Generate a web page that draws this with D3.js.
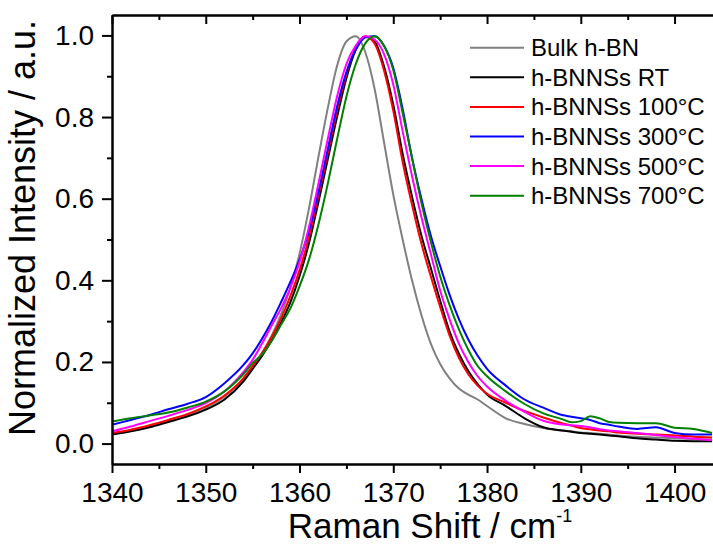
<!DOCTYPE html>
<html>
<head>
<meta charset="utf-8">
<script src="https://cdn.jsdelivr.net/npm/d3@7"></script>
<style>
  body { margin: 0; background: #fff; }
  text { font-family: "Liberation Sans", Arial, sans-serif; fill: #000; }
</style>
</head>
<body>
<div id="chart"></div>
<script>
// Raman shift grid (cm^-1) shared by all spectra
const ramanShift = [1340, 1342, 1344, 1346, 1348, 1350, 1352, 1354,
  1355, 1356, 1357, 1358, 1359, 1360, 1361, 1362, 1363, 1364, 1365, 1366, 1367, 1368, 1369, 1370,
  1371, 1372, 1373, 1374, 1375, 1376, 1377, 1378, 1379, 1380,
  1382, 1384, 1386, 1388, 1389, 1390, 1391, 1392, 1393, 1394, 1396, 1398, 1400, 1402, 1404];

// Normalized intensities
const bulkHBN = [0.024, 0.031, 0.041, 0.055, 0.069, 0.087, 0.115, 0.158,
  0.188, 0.222, 0.263, 0.315, 0.38, 0.465, 0.575, 0.70, 0.82, 0.925, 0.985, 0.998, 0.96, 0.87, 0.74, 0.61,
  0.50, 0.40, 0.315, 0.245, 0.195, 0.16, 0.135, 0.12, 0.108, 0.092,
  0.062, 0.048, 0.038, 0.032, 0.030, 0.027, 0.026, 0.024, 0.022, 0.020, 0.017, 0.015, 0.013, 0.011, 0.010];
const bnnsRT = [0.022, 0.030, 0.040, 0.053, 0.066, 0.083, 0.108, 0.152,
  0.183, 0.215, 0.252, 0.295, 0.345, 0.41, 0.49, 0.59, 0.695, 0.80, 0.895, 0.965, 0.997, 0.985, 0.925, 0.83,
  0.71, 0.605, 0.51, 0.43, 0.35, 0.275, 0.22, 0.178, 0.146, 0.12,
  0.092, 0.062, 0.040, 0.032, 0.029, 0.026, 0.024, 0.022, 0.020, 0.018, 0.013, 0.010, 0.007, 0.006, 0.006];
const bnns100 = [0.026, 0.034, 0.045, 0.058, 0.072, 0.091, 0.118, 0.160,
  0.190, 0.222, 0.26, 0.305, 0.36, 0.425, 0.505, 0.605, 0.71, 0.815, 0.905, 0.97, 0.998, 0.98, 0.915, 0.815,
  0.69, 0.585, 0.49, 0.41, 0.335, 0.265, 0.21, 0.17, 0.142, 0.122,
  0.10, 0.080, 0.064, 0.050, 0.044, 0.038, 0.035, 0.032, 0.030, 0.027, 0.024, 0.022, 0.020, 0.017, 0.015];
const bnns300 = [0.046, 0.058, 0.070, 0.084, 0.097, 0.114, 0.148, 0.192,
  0.221, 0.257, 0.298, 0.345, 0.395, 0.45, 0.52, 0.615, 0.72, 0.825, 0.91, 0.965, 0.995, 0.998, 0.975, 0.92,
  0.82, 0.70, 0.60, 0.51, 0.435, 0.365, 0.305, 0.255, 0.215, 0.183,
  0.142, 0.108, 0.088, 0.070, 0.066, 0.062, 0.058, 0.050, 0.046, 0.042, 0.036, 0.040, 0.026, 0.022, 0.022];
const bnns500 = [0.030, 0.042, 0.055, 0.068, 0.082, 0.099, 0.128, 0.175,
  0.205, 0.245, 0.288, 0.33, 0.38, 0.445, 0.53, 0.635, 0.745, 0.85, 0.93, 0.975, 0.998, 0.99, 0.955, 0.88,
  0.765, 0.655, 0.555, 0.465, 0.375, 0.305, 0.245, 0.20, 0.165, 0.14,
  0.105, 0.078, 0.056, 0.047, 0.045, 0.043, 0.040, 0.035, 0.032, 0.030, 0.026, 0.021, 0.016, 0.012, 0.008];
const bnns700 = [0.054, 0.062, 0.069, 0.076, 0.088, 0.103, 0.128, 0.170,
  0.197, 0.218, 0.25, 0.29, 0.33, 0.385, 0.45, 0.535, 0.635, 0.745, 0.85, 0.93, 0.98, 0.998, 0.975, 0.915,
  0.81, 0.70, 0.59, 0.495, 0.41, 0.34, 0.28, 0.23, 0.19, 0.165,
  0.128, 0.097, 0.074, 0.060, 0.052, 0.055, 0.067, 0.062, 0.053, 0.051, 0.050, 0.050, 0.039, 0.036, 0.026];

const seriesNames = ['Bulk h-BN', 'h-BNNSs RT', 'h-BNNSs 100°C', 'h-BNNSs 300°C', 'h-BNNSs 500°C', 'h-BNNSs 700°C'];
const seriesValues = [bulkHBN, bnnsRT, bnns100, bnns300, bnns500, bnns700];
const seriesColors = ['#808080', '#000000', '#ff0000', '#0000ff', '#ff00ff', '#008000'];

const xMajorTicks = [1340, 1350, 1360, 1370, 1380, 1390, 1400];
const xMinorTicks = [1345, 1355, 1365, 1375, 1385, 1395];
const yMajorTicks = [0, 0.2, 0.4, 0.6, 0.8, 1.0];
const yMinorTicks = [0.1, 0.3, 0.5, 0.7, 0.9];

const width = 713;
const height = 547;
const plot = { left: 112, right: 713, top: 15, bottom: 464 };

const svg = d3.select('#chart')
  .append('svg')
  .attr('width', width)
  .attr('height', height);

const x = d3.scaleLinear().domain([1340, 1404.1]).range([plot.left, plot.right]);
const y = d3.scaleLinear().domain([-0.05, 1.05]).range([plot.bottom, plot.top]);

svg.append('clipPath').attr('id', 'plot-clip')
  .append('rect')
  .attr('x', plot.left).attr('y', plot.top)
  .attr('width', plot.right - plot.left).attr('height', plot.bottom - plot.top);

// spectra, drawn in legend order
const line = d3.line()
  .x((d, i) => x(ramanShift[i]))
  .y(d => y(d))
  .curve(d3.curveMonotoneX);

svg.append('g')
  .attr('clip-path', 'url(#plot-clip)')
  .selectAll('path')
  .data(seriesValues)
  .enter()
  .append('path')
  .attr('fill', 'none')
  .attr('stroke', (d, i) => seriesColors[i])
  .attr('stroke-width', 2)
  .attr('stroke-linejoin', 'round')
  .attr('d', d => line(d));

// axes
function styleAxis(g) {
  g.selectAll('path.domain').attr('stroke', '#000').attr('stroke-width', 2);
  g.selectAll('.tick line').attr('stroke', '#000').attr('stroke-width', 2);
  g.selectAll('.tick text').attr('fill', '#000');
}

// bottom
svg.append('g')
  .attr('transform', `translate(0,${plot.bottom})`)
  .call(d3.axisBottom(x).tickValues(xMinorTicks).tickSize(5).tickSizeOuter(0).tickFormat(''))
  .call(styleAxis);
svg.append('g')
  .attr('transform', `translate(0,${plot.bottom})`)
  .call(d3.axisBottom(x).tickValues(xMajorTicks).tickSize(9).tickSizeOuter(0).tickPadding(9)
    .tickFormat(d3.format('d')))
  .call(styleAxis)
  .call(g => g.selectAll('.tick text').style('font-size', '28px').attr('dy', '0.71em'));

// top (ticks pointing down into the plot)
svg.append('g')
  .attr('transform', `translate(0,${plot.top})`)
  .call(d3.axisBottom(x).tickValues(xMinorTicks).tickSize(5).tickSizeOuter(0).tickFormat(''))
  .call(styleAxis);
svg.append('g')
  .attr('transform', `translate(0,${plot.top})`)
  .call(d3.axisBottom(x).tickValues(xMajorTicks).tickSize(9).tickSizeOuter(0).tickFormat(''))
  .call(styleAxis);

// left
svg.append('g')
  .attr('transform', `translate(${plot.left},0)`)
  .call(d3.axisLeft(y).tickValues(yMinorTicks).tickSize(5).tickSizeOuter(0).tickFormat(''))
  .call(styleAxis);
svg.append('g')
  .attr('transform', `translate(${plot.left},0)`)
  .call(d3.axisLeft(y).tickValues(yMajorTicks).tickSize(10).tickSizeOuter(0).tickPadding(8)
    .tickFormat(d3.format('.1f')))
  .call(styleAxis)
  .call(g => g.selectAll('.tick text').style('font-size', '28px'));

// axis titles
const xTitle = svg.append('text')
  .attr('x', 430)
  .attr('y', 538)
  .attr('text-anchor', 'middle')
  .style('font-size', '35px');
xTitle.append('tspan').text('Raman Shift / cm');
xTitle.append('tspan').attr('dy', -16).style('font-size', '18px').text('-1');

svg.append('text')
  .attr('transform', 'translate(35,228) rotate(-90)')
  .attr('text-anchor', 'middle')
  .style('font-size', '36px')
  .text('Normalized Intensity / a.u.');

// legend
const legend = svg.append('g')
  .selectAll('g')
  .data(seriesNames)
  .enter()
  .append('g')
  .attr('transform', (d, i) => `translate(470,${47.7 + i * 29.6})`);

legend.append('line')
  .attr('x1', 0).attr('x2', 54)
  .attr('stroke', (d, i) => seriesColors[i])
  .attr('stroke-width', 2);

legend.append('text')
  .attr('x', 61)
  .attr('y', 8.5)
  .style('font-size', '24px')
  .text(d => d);
</script>
</body>
</html>
